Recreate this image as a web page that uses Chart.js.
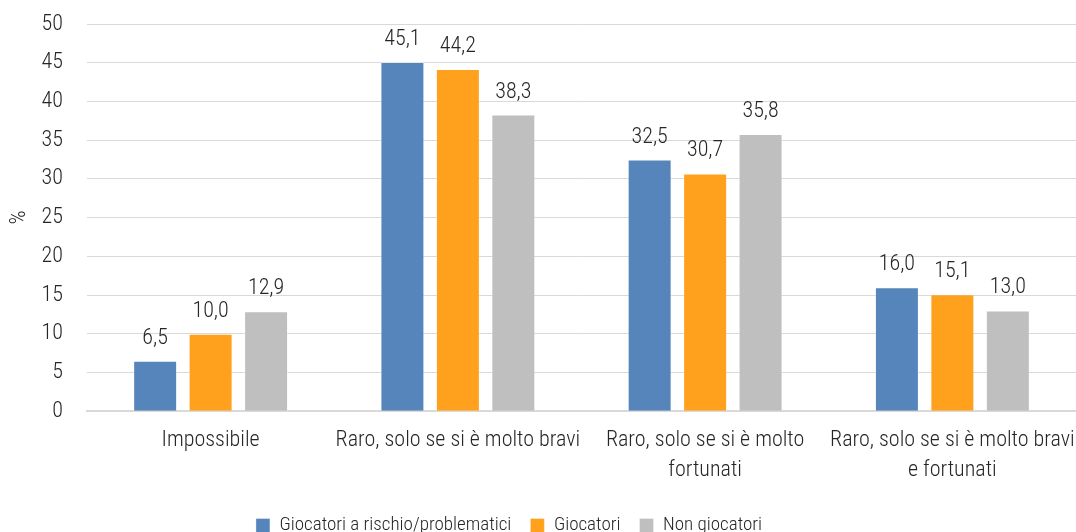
<!DOCTYPE html>
<html>
<head>
<meta charset="utf-8">
<script src="https://cdn.jsdelivr.net/npm/chart.js@4/dist/chart.umd.min.js"></script>
<style>
html,body{margin:0;padding:0;background:#fff;overflow:hidden;}
#wrap{position:relative;width:1076px;height:547px;}
</style>
</head>
<body>
<div id="wrap"><canvas id="c"></canvas></div>
<script>
const categories = [
  "Impossibile",
  "Raro, solo se si è molto bravi",
  ["Raro, solo se si è molto", "fortunati"],
  ["Raro, solo se si è molto bravi", "e fortunati"]
];
const seriesNames = ["Giocatori a rischio/problematici", "Giocatori", "Non giocatori"];
const rischio = [6.5, 45.1, 32.5, 16.0];
const giocatori = [10.0, 44.2, 30.7, 15.1];
const nonGiocatori = [12.9, 38.3, 35.8, 13.0];
const yTicks = [0, 5, 10, 15, 20, 25, 30, 35, 40, 45, 50];

const FONT = "'Roboto Condensed', 'Liberation Sans Narrow', sans-serif";
const FS = 22;
const FW = 300;
const TXT = "#262626";
const colors = ["#5585BA", "#FFA11C", "#BFBFBF"];

const valueLabels = {
  id: 'valueLabels',
  afterDatasetsDraw(chart) {
    const ctx = chart.ctx;
    ctx.save();
    ctx.font = FW + " " + FS + "px " + FONT;
    ctx.fillStyle = TXT;
    ctx.textAlign = "center";
    ctx.textBaseline = "alphabetic";
    chart.data.datasets.forEach((ds, i) => {
      const meta = chart.getDatasetMeta(i);
      meta.data.forEach((bar, j) => {
        const v = ds.data[j];
        ctx.fillText(v.toFixed(1).replace('.', ','), bar.x, bar.y - 17);
      });
    });
    ctx.restore();
  }
};

const legendShift = {
  id: 'legendShift',
  afterLayout(chart) {
    const lg = chart.legend;
    if (lg) { lg.left -= 29; lg.right -= 29; lg.top -= 2; lg.bottom -= 2; }
  }
};

const allData = [rischio, giocatori, nonGiocatori];
new Chart(document.getElementById('c'), {
  type: 'bar',
  data: {
    labels: categories,
    datasets: seriesNames.map((n, i) => ({
      label: n,
      data: allData[i],
      backgroundColor: colors[i],
      borderColor: "rgba(255,255,255,0.35)",
      borderWidth: 1,
      categoryPercentage: 0.673,
      barPercentage: 0.793
    }))
  },
  options: {
    responsive: true,
    maintainAspectRatio: false,
    animation: false,
    layout: { padding: { top: 24, right: 0, left: 0, bottom: 0 } },
    plugins: {
      legend: {
        position: 'bottom',
        labels: {
          font: { family: FONT, size: 19, weight: FW },
          color: TXT,
          boxWidth: 14,
          boxHeight: 14,
          padding: 19
        }
      },
      tooltip: { enabled: false }
    },
    scales: {
      x: {
        afterFit(scale) { scale.paddingLeft = 0; scale.paddingRight = 0; },
        grid: { display: false, drawTicks: false },
        border: { display: true, color: "#D9D9D9", width: 2 },
        ticks: {
          font: { family: FONT, size: FS, weight: FW, lineHeight: 1.36 },
          color: TXT,
          padding: 14,
          maxRotation: 0,
          autoSkip: false
        }
      },
      y: {
        min: 0, max: 50,
        afterBuildTicks(scale) { scale.ticks = yTicks.map(v => ({ value: v })); },
        afterFit(scale) { scale.width = 87; scale.paddingTop = 0; scale.paddingBottom = 0; },
        grid: { color: "#D9D9D9", lineWidth: 1, drawTicks: false },
        border: { display: false },
        ticks: {
          font: { family: FONT, size: FS, weight: FW },
          color: TXT,
          padding: 24
        },
        title: {
          display: true,
          text: "%",
          font: { family: FONT, size: FS, weight: FW },
          color: TXT,
          padding: { top: 6, bottom: 0 }
        }
      }
    }
  },
  plugins: [valueLabels, legendShift]
});
</script>
</body>
</html>
